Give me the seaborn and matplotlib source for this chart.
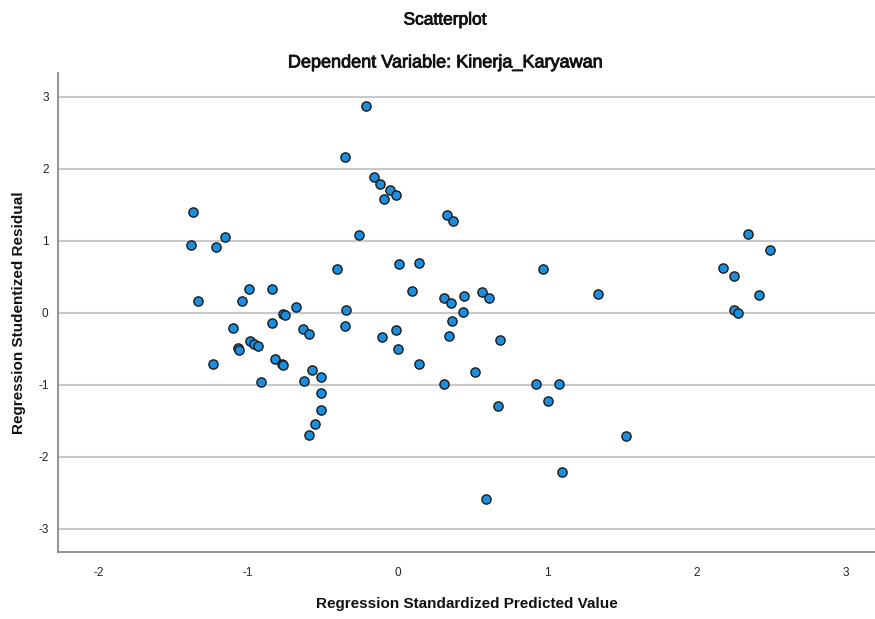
import matplotlib
matplotlib.use("Agg")
import matplotlib.pyplot as plt
import matplotlib.patheffects as pe
import seaborn as sns
import pandas as pd

# Data
predicted = [
    -1.371, -1.380, -1.215, -1.152, -0.406, -1.337, -1.040, -0.996, -0.839, -0.676,
    -0.766, -0.755, -0.839, -1.100, -0.634, -0.589, -0.987, -0.960, -0.933, -1.067,
    -1.058, -1.237, -0.819, -0.775, -0.766, -0.571, -0.509, -0.913, -0.623, -0.509,
    -0.509, -0.549, -0.589, -0.208, -0.353, -0.154, -0.114, -0.051, -0.009, -0.092,
    0.333, 0.373, -0.259, 0.009, 0.145, 0.976, 0.096, 0.313, 0.355, 0.447,
    0.563, 0.612, 1.340, -0.342, 0.435, -0.353, -0.103, -0.009, 0.000, 0.366,
    0.344, 0.685, 0.145, 0.520, 0.310, 0.924, 1.080, 1.005, 0.674, 1.101,
    0.592, 2.346, 2.490, 2.179, 2.253, 2.420, 2.253, 2.275, 1.528,
]
residual = [
    1.394, 0.936, 0.917, 1.051, 0.602, 0.163, 0.167, 0.333, 0.329, 0.075,
    -0.018, -0.036, -0.139, -0.208, -0.226, -0.287, -0.389, -0.426, -0.463, -0.495,
    -0.514, -0.708, -0.639, -0.713, -0.726, -0.791, -0.884, -0.967, -0.953, -1.119,
    -1.351, -1.546, -1.694, 2.875, 2.158, 1.885, 1.787, 1.700, 1.639, 1.579,
    1.353, 1.274, 1.079, 0.681, 0.695, 0.611, 0.306, 0.200, 0.135, 0.228,
    0.292, 0.204, 0.264, 0.033, 0.010, -0.185, -0.333, -0.245, -0.509, -0.120,
    -0.319, -0.379, -0.717, -0.824, -0.981, -0.981, -0.990, -1.217, -1.300, -2.213,
    -2.578, 1.093, 0.866, 0.625, 0.514, 0.246, 0.033, -0.004, -1.712,
]
x_ticks = [-2, -1, 0, 1, 2, 3]
y_ticks = [-3, -2, -1, 0, 1, 2, 3]

title = "Scatterplot"
subtitle = "Dependent Variable: Kinerja_Karyawan"
x_label = "Regression Standardized Predicted Value"
y_label = "Regression Studentized Residual"

df = pd.DataFrame({"pred": predicted, "resid": residual})

sns.set_theme(style="white")
FAM = ["Liberation Sans", "DejaVu Sans"]
plt.rcParams["font.family"] = FAM

fig = plt.figure(figsize=(8.75, 6.19), dpi=100)
ax = fig.add_axes([58.3 / 875, 1 - 552 / 619, 1 - 58.3 / 875, (552 - 73.3) / 619])

sns.scatterplot(data=df, x="pred", y="resid", ax=ax, s=44, color="#1C8EE0",
                edgecolor="#1a1a1a", linewidth=1.0, zorder=3)

ax.set_xlim(-2.269, 3.194)
ax.set_ylim(-3.32, 3.325)
ax.set_xticks(x_ticks)
ax.set_yticks(y_ticks)
ax.set_xticklabels([str(t) for t in x_ticks])
ax.set_yticklabels([str(t) for t in y_ticks])
ax.tick_params(axis="both", length=0, labelsize=8.5, colors="#222222")
ax.tick_params(axis="x", pad=11)
ax.tick_params(axis="y", pad=7)

for yv in y_ticks:
    ax.axhline(yv, color="#c9c9c9", lw=1.6, zorder=1)

for side in ["top", "right"]:
    ax.spines[side].set_visible(False)
for side in ["left", "bottom"]:
    ax.spines[side].set_color("#8a8a8a")
    ax.spines[side].set_linewidth(1.3)

ax.set_xlabel(x_label, fontsize=11, fontweight="bold", color="#111111", labelpad=13)
ax.set_ylabel(y_label, fontsize=11, fontweight="bold", color="#111111", labelpad=9)

thick = [pe.withStroke(linewidth=0.6, foreground="#111111")]
fig.text(445 / 875, 1 - 20 / 619, title, ha="center", va="center",
         fontsize=12.5, color="#111111", path_effects=thick)
fig.text(445 / 875, 1 - 63 / 619, subtitle, ha="center", va="center",
         fontsize=13, color="#111111", path_effects=thick)

fig.savefig("out.png", dpi=100, facecolor="white")
